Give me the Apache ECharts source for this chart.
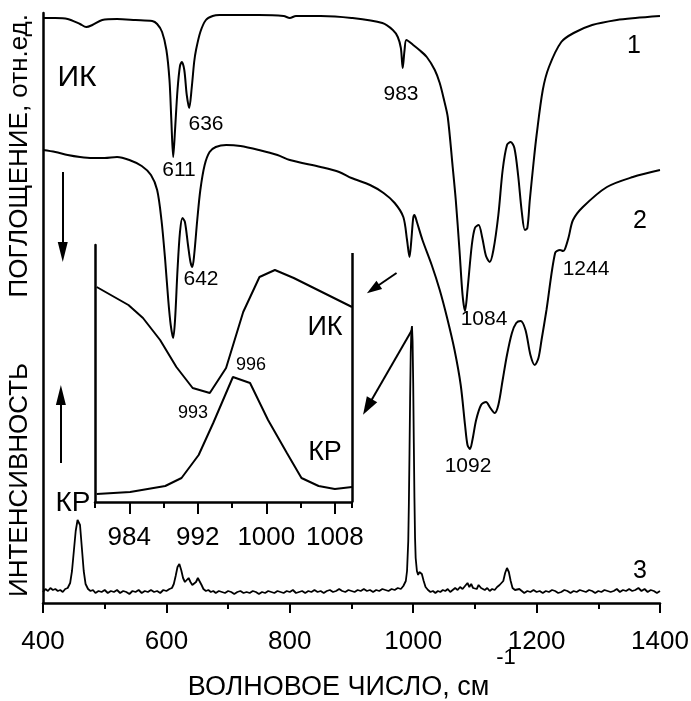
<!DOCTYPE html>
<html><head><meta charset="utf-8">
<script src="https://cdn.jsdelivr.net/npm/echarts@6/dist/echarts.min.js"></script>
<style>html,body{margin:0;padding:0;background:#fff}#c{width:691px;height:701px}</style>
</head><body><div id="c"></div>
<script>
// ---- data (wavenumber, relative units) ----
const ir1 = [[400,585],[420,585],[440,584],[460,579],[470,576],[480,578],[496,583],[520,584],[550,583],[577,582],[585,579],[593,571],[600,553],[605,523],[608,483],[611,446],[614,473],[618,513],[622,537],[625,541],[629,533],[633,508],[637,495],[641,515],[645,541],[648,553],[655,571],[664,583],[675,587],[686,588],[700,588],[750,588],[790,587],[800,585],[810,587],[850,587],[900,585],[950,580],[967,573],[975,566],[980,555],[983,535],[986,553],[989,563],[1000,558],[1010,553],[1022,546],[1035,533],[1043,520],[1050,503],[1056,486],[1064,436],[1069,403],[1075,353],[1080,308],[1084,292],[1088,313],[1095,358],[1100,375],[1106,378],[1112,365],[1118,347],[1124,341],[1130,353],[1138,388],[1145,433],[1152,458],[1158,461],[1164,455],[1170,428],[1176,391],[1181,373],[1185,375],[1189,403],[1195,440],[1200,468],[1210,513],[1220,536],[1240,561],[1260,570],[1290,578],[1330,583],[1360,585],[1400,587]];
const ir2 = [[400,453],[420,451],[440,448],[460,446],[480,445],[500,445],[520,446],[540,443],[560,437],[575,428],[585,413],[592,383],[598,343],[603,303],[607,278],[611,265],[614,283],[618,333],[622,371],[626,385],[630,381],[635,358],[639,341],[642,336],[645,348],[650,383],[655,413],[662,438],[670,451],[680,456],[697,458],[720,457],[750,453],[780,448],[800,443],[850,436],[880,431],[900,425],[930,418],[952,410],[970,400],[984,386],[990,363],[994,346],[997,363],[1000,385],[1002,388],[1006,381],[1015,363],[1030,338],[1043,313],[1055,285],[1067,253],[1077,218],[1084,178],[1088,158],[1092,154],[1096,163],[1102,183],[1110,198],[1118,201],[1125,195],[1132,190],[1138,198],[1145,223],[1152,248],[1160,270],[1167,280],[1174,282],[1182,273],[1190,248],[1197,238],[1203,245],[1208,263],[1216,293],[1230,350],[1238,353],[1243,352],[1246,354],[1252,366],[1259,383],[1275,396],[1314,416],[1356,426],[1400,433]];
const raman = [[400,11],[404,14],[408,12],[412,15],[416,13],[420,14],[424,12],[428,13],[432,11],[436,14],[440,15],[444,20],[447,32],[450,52],[453,72],[456,83],[458,84],[460,78],[463,55],[466,32],[469,19],[473,14],[477,12],[481,13],[485,10],[490,12],[495,11],[500,13],[505,10],[510,12],[515,11],[520,13],[525,10],[530,12],[535,11],[540,9],[545,12],[550,11],[555,13],[560,10],[565,12],[570,11],[575,13],[580,11],[585,12],[590,10],[595,13],[600,12],[605,14],[609,15],[612,19],[615,27],[618,36],[621,39],[624,33],[627,25],[630,21],[633,23],[636,25],[639,21],[642,18],[645,17],[648,21],[651,25],[654,24],[657,18],[660,14],[664,12],[668,13],[672,11],[676,12],[680,10],[685,12],[690,11],[695,10],[700,12],[705,11],[710,9],[715,11],[720,12],[725,10],[730,11],[735,10],[740,12],[745,11],[750,9],[755,11],[760,10],[765,12],[770,11],[775,10],[780,12],[785,11],[790,10],[795,12],[800,11],[805,13],[810,10],[815,11],[820,12],[825,10],[830,12],[835,11],[840,13],[845,11],[850,12],[855,10],[860,12],[865,13],[870,11],[875,12],[880,14],[885,12],[890,11],[895,13],[900,12],[905,11],[910,13],[915,12],[920,14],[925,12],[930,13],[935,11],[940,13],[945,12],[950,14],[955,13],[960,12],[965,14],[970,13],[975,15],[980,14],[984,17],[988,22],[990,32],[992,62],[993,100],[994,150],[995,205],[996,250],[997,272],[998,277],[999,262],[1000,220],[1001,160],[1002,105],[1003,65],[1004,45],[1006,32],[1008,28],[1010,31],[1012,33],[1014,29],[1017,22],[1020,16],[1024,13],[1028,11],[1032,12],[1036,10],[1040,12],[1044,11],[1048,13],[1052,12],[1056,14],[1060,11],[1064,13],[1068,15],[1072,13],[1076,16],[1080,14],[1084,17],[1088,20],[1091,16],[1094,19],[1097,15],[1100,17],[1103,14],[1106,18],[1110,15],[1113,17],[1116,13],[1120,15],[1124,12],[1128,14],[1132,13],[1136,16],[1140,18],[1143,17],[1146,22],[1149,30],[1152,35],[1155,31],[1158,22],[1161,15],[1165,13],[1168,11],[1172,14],[1176,12],[1180,10],[1185,12],[1190,11],[1195,13],[1200,11],[1205,12],[1210,10],[1215,12],[1220,11],[1225,13],[1230,12],[1235,10],[1240,11],[1245,13],[1250,12],[1255,10],[1260,12],[1265,11],[1270,13],[1275,12],[1280,11],[1285,13],[1290,12],[1295,10],[1300,12],[1305,11],[1310,13],[1315,12],[1320,11],[1325,12],[1330,14],[1335,11],[1340,13],[1345,12],[1350,14],[1355,12],[1360,13],[1365,15],[1370,12],[1375,14],[1380,11],[1385,13],[1390,12],[1395,10],[1400,12]];
const insetIR = [[980.2,215],[983.9,197],[985.6,184],[987.6,162],[989.5,135],[991.4,114],[993.4,109],[995.3,134],[997.3,190],[999.2,225],[1001.0,232],[1003.2,224],[1010.0,195]];
const insetRaman = [[980.2,8],[984.1,10],[988.2,16],[990.1,24],[992.1,47],[993.8,79],[996.1,125],[998.1,119],[1000.2,82],[1002.4,49],[1004.1,24],[1006.1,16],[1008.0,13],[1010.0,15]];
const insetMajor = [984,992,1000,1008];
const insetMinor = [980,988,996,1004,1010];

const FONT = 'Liberation Sans, Arial, sans-serif';
const chart = echarts.init(document.getElementById('c'), null, {renderer:'canvas'});
const BLK = '#000';
function txt(s, x, y, size, align, vAlign, rot) {
  return {type:'text', x:x, y:y, rotation: rot||0, silent:true,
    style:{text:s, fontSize:size, fontFamily:FONT, fill:BLK,
      align:align||'center', textAlign:align||'center',
      verticalAlign:vAlign||'top', textVerticalAlign:vAlign||'top'}};
}
const arrowStyle = {color:BLK, width:2, type:'solid'};
function arrow(a, b, size) {
  return [{coord:a, symbol:'none', lineStyle:arrowStyle}, {coord:b, symbol:'triangle', symbolSize:size}];
}
const plain = v => String(v);
const axisLineStyle = {color:BLK, width:2.5};
const option = {
  animation:false,
  backgroundColor:'#fff',
  textStyle:{fontFamily:FONT},
  grid:[
    {left:43, right:31, top:13, bottom:98, outerBoundsMode:'none'},
    {left:95, width:257, top:245, height:257, outerBoundsMode:'none'}
  ],
  xAxis:[
    {gridIndex:0, type:'value', min:400, max:1400, interval:200,
     axisLine:{lineStyle:axisLineStyle},
     axisTick:{length:10, lineStyle:{color:BLK, width:2}},
     minorTick:{show:true, splitNumber:2, length:6, lineStyle:{color:BLK, width:2}},
     splitLine:{show:false}, minorSplitLine:{show:false},
     axisLabel:{fontSize:26, color:BLK, margin:26, fontFamily:FONT, formatter:plain},
     name:'ВОЛНОВОЕ ЧИСЛО, см', nameLocation:'middle', nameGap:71,
     nameTextStyle:{fontSize:27, color:BLK, fontFamily:FONT, padding:[0,26,0,0]}},
    {gridIndex:1, type:'value', min:980, max:1010, position:'bottom',
     axisLine:{lineStyle:axisLineStyle},
     axisTick:{customValues:insetMajor, length:12, lineStyle:{color:BLK, width:2}},
     axisLabel:{customValues:insetMajor, fontSize:26, color:BLK, margin:23, fontFamily:FONT, formatter:plain},
     splitLine:{show:false}},
    {gridIndex:1, type:'value', min:980, max:1010, position:'bottom',
     axisLine:{show:false},
     axisTick:{customValues:insetMinor, length:6, lineStyle:{color:BLK, width:2}},
     axisLabel:{show:false}, splitLine:{show:false}}
  ],
  yAxis:[
    {gridIndex:0, type:'value', min:0, max:590, axisLine:{show:true, lineStyle:axisLineStyle},
     axisTick:{show:false}, axisLabel:{show:false}, splitLine:{show:false}},
    {gridIndex:1, type:'value', min:0, max:257, axisLine:{show:true, lineStyle:axisLineStyle},
     axisTick:{show:false}, axisLabel:{show:false}, splitLine:{show:false}}
  ],
  series:[
    {type:'line', xAxisIndex:0, yAxisIndex:0, data:ir1, showSymbol:false, smooth:0.3,
     lineStyle:{color:BLK, width:2}},
    {type:'line', xAxisIndex:0, yAxisIndex:0, data:ir2, showSymbol:false, smooth:0.3,
     lineStyle:{color:BLK, width:2}},
    {type:'line', xAxisIndex:0, yAxisIndex:0, data:raman, showSymbol:false, smooth:false,
     lineStyle:{color:BLK, width:1.8},
     markLine:{silent:true, animation:false, label:{show:false}, symbol:['none','triangle'],
       lineStyle:arrowStyle, itemStyle:{color:BLK},
       data:[
         arrow([432,431],[432,351],[10,20]),
         arrow([429,140],[429,208],[10,20]),
         arrow([973,330],[935,314],[10,15]),
         arrow([998,273],[926,196],[12,18])
       ]}},
    {type:'line', xAxisIndex:1, yAxisIndex:1, data:insetIR, showSymbol:false, smooth:false,
     lineStyle:{color:BLK, width:2},
     markLine:{silent:true, animation:false, label:{show:false}, symbol:'none',
       lineStyle:{color:BLK, width:2.5, type:'solid'},
       data:[[{coord:[1010,249]},{coord:[1010,0]}]]}},
    {type:'line', xAxisIndex:1, yAxisIndex:1, data:insetRaman, showSymbol:false, smooth:false,
     lineStyle:{color:BLK, width:2}}
  ],
  graphic:[
    txt('ИК', 77, 63, 30),
    txt('1', 634, 34, 25),
    txt('2', 640, 209, 25),
    txt('3', 640, 559, 25),
    txt('611', 179, 160, 21),
    txt('636', 206, 114, 21),
    txt('983', 401, 84, 21),
    txt('642', 201, 269, 21),
    txt('1084', 484, 309, 21),
    txt('1244', 586, 259, 21),
    txt('1092', 468, 456, 21),
    txt('996', 251, 356, 18),
    txt('993', 193, 404, 18),
    txt('ИК', 325, 314, 27),
    txt('КР', 325, 439, 27),
    txt('КР', 73, 489, 28),
    txt('-1', 506, 647, 22),
    txt('ИНТЕНСИВНОСТЬ', 20, 597, 26, 'left', 'middle', Math.PI/2),
    txt('ПОГЛОЩЕНИЕ, отн.ед.', 20, 14, 26, 'right', 'middle', Math.PI/2)
  ]
};
chart.setOption(option);
</script></body></html>
